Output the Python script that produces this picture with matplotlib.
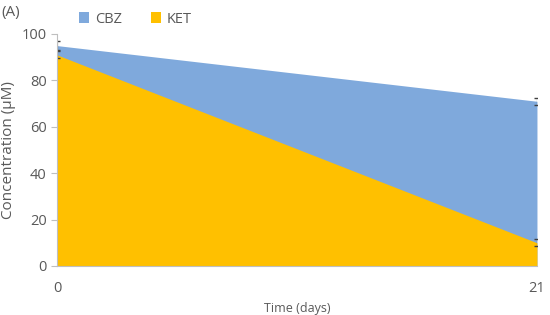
import matplotlib
matplotlib.use('Agg')
import matplotlib.pyplot as plt
import numpy as np

days = [0, 21]
cbz = [95, 71]
ket = [91, 10]
cbz_err = [2, 1.5]
ket_err = [1.5, 1.5]

plt.rcParams['font.family'] = ['Open Sans', 'DejaVu Sans']
grey = '#595959'

fig = plt.figure(figsize=(5.5, 3.15), dpi=100)
ax = fig.add_axes([0.1036, 0.1556, 0.8727, 0.7365])

ax.fill_between(days, 0, cbz, color='#7FA9DC', lw=0, label='CBZ')
ax.fill_between(days, 0, ket, color='#FFC000', lw=0, label='KET')
ax.errorbar(days, cbz, yerr=cbz_err, fmt='none', ecolor='#404040', elinewidth=0.8, capsize=2)
ax.errorbar(days, ket, yerr=ket_err, fmt='none', ecolor='#404040', elinewidth=0.8, capsize=2)

ax.set_xlim(0, 21)
ax.set_ylim(0, 100)
ax.set_xticks(days)
ax.set_yticks(np.arange(0, 101, 20))
ax.tick_params(axis='y', colors=grey, labelsize=10.5, length=4, width=0.8, color='#BFBFBF')
ax.tick_params(axis='x', colors=grey, labelsize=10.5, length=0, pad=11)
for s in ['top', 'right']:
    ax.spines[s].set_visible(False)
ax.spines['left'].set_color('#BFBFBF')
ax.spines['bottom'].set_color('#BFBFBF')
ax.set_ylabel('Concentration (\u00b5M)', color=grey, fontsize=11)
ax.set_xlabel('Time (days)', color=grey, fontsize=9)

ax.legend(loc='lower left', bbox_to_anchor=(0.03, 1.0), ncol=2, frameon=False,
          fontsize=10.5, handlelength=0.7, handleheight=0.7, columnspacing=2.0,
          handletextpad=0.4, labelcolor=grey, borderaxespad=0.1)
fig.text(0.002, 0.95, '(A)', color=grey, fontsize=11)

fig.savefig('out.png')
